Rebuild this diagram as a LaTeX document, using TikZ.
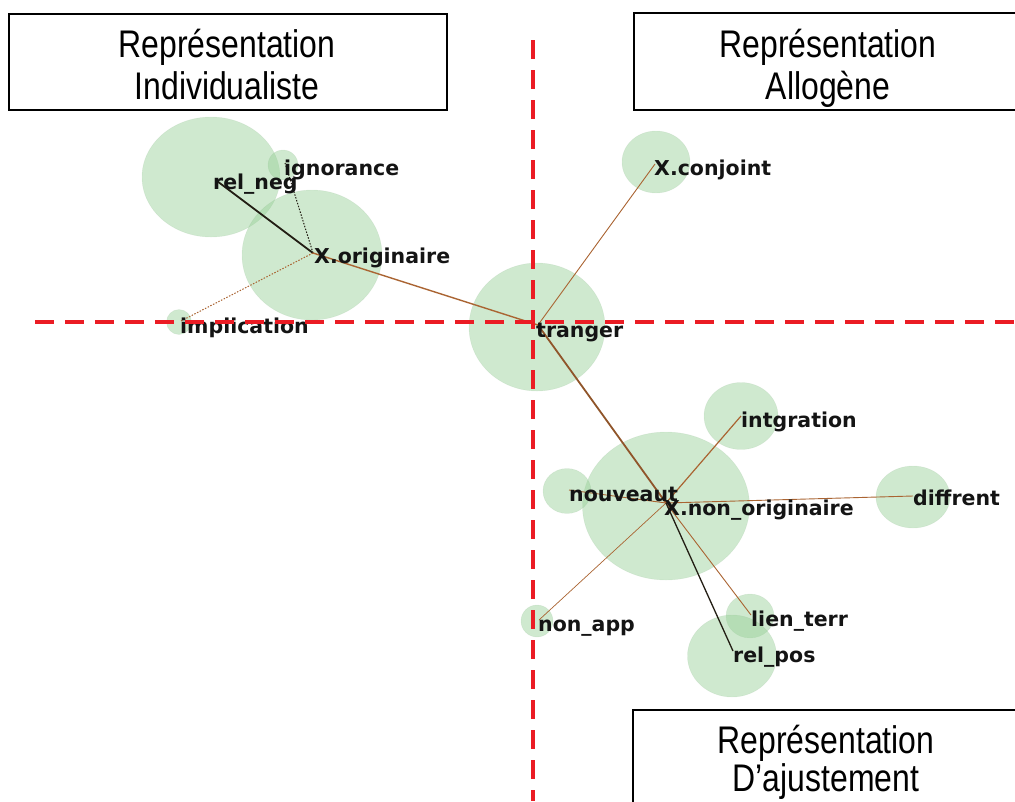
\documentclass[tikz,border=0pt]{standalone}
\usepackage{fontspec}
\newfontfamily\boxfont{Liberation Sans}[FakeStretch=0.83]
\newfontfamily\lblfont{DejaVu Sans}
\usetikzlibrary{shapes.geometric}
\definecolor{bubblegreen}{RGB}{150,208,150}
\definecolor{dashred}{RGB}{235,28,36}
\definecolor{edgebrown}{RGB}{170,100,50}
\definecolor{edgedark}{RGB}{35,30,20}
\tikzset{
  bubble/.style={ellipse, inner sep=0pt, fill=bubblegreen, fill opacity=0.45, draw=bubblegreen!80!black, draw opacity=0.15},
  lbl/.style={anchor=base west, inner sep=0pt, font=\lblfont\bfseries\fontsize{20.5}{21}\selectfont, text=black!92},
  edgeline/.style={draw=edgebrown, line width=0.9pt},
  edgethick/.style={draw=edgebrown!85!black, line width=1.8pt},
  edgeblack/.style={draw=edgedark, line width=1.8pt},
  edgedot/.style={draw=edgebrown, line width=1pt, dash pattern=on 1.5pt off 1.5pt},
  redline/.style={draw=dashred, line width=3.6pt, dash pattern=on 19pt off 11pt},
  qbox/.style={draw=black, line width=1.4pt, fill=white, inner sep=0pt},
  boxtext/.style={anchor=base, inner sep=0pt, font=\boxfont\fontsize{38.5}{38}\selectfont}
}
\begin{document}
\begin{tikzpicture}[x=1pt,y=-1pt]
\useasboundingbox (0,0) rectangle (1015,801);
\clip (0,0) rectangle (1015,801);
\fill[white] (0,0) rectangle (1015,801);

% bubbles
\node[bubble, minimum width=138, minimum height=120] (bRel) at (211,177) {};
\node[bubble, minimum width=30, minimum height=30] (bIgn) at (283,165) {};
\node[bubble, minimum width=140, minimum height=130] (bOrig) at (312,255) {};
\node[bubble, minimum width=25, minimum height=25] (bImp) at (179,322) {};
\node[bubble, minimum width=136, minimum height=128] (bTr) at (537,327) {};
\node[bubble, minimum width=68, minimum height=62] (bConj) at (656,162) {};
\node[bubble, minimum width=74, minimum height=67] (bInt) at (741,416) {};
\node[bubble, minimum width=167, minimum height=148] (bNon) at (666,506) {};
\node[bubble, minimum width=48, minimum height=45] (bNouv) at (567,491) {};
\node[bubble, minimum width=74, minimum height=62] (bDif) at (913,497) {};
\node[bubble, minimum width=32, minimum height=32] (bApp) at (537,621) {};
\node[bubble, minimum width=48, minimum height=44] (bLien) at (750,616) {};
\node[bubble, minimum width=89, minimum height=82] (bPos) at (732,656) {};

% term points
\coordinate (pRel) at (217,181);
\coordinate (pIgn) at (285,163);
\coordinate (pOrig) at (313,253);
\coordinate (pImp) at (181,321);
\coordinate (pTr) at (538,325);
\coordinate (pConj) at (655,164);
\coordinate (pInt) at (741,416);
\coordinate (pNouv) at (569,490);
\coordinate (pNon) at (666,503);
\coordinate (pDif) at (913,496);
\coordinate (pApp) at (539,620);
\coordinate (pLien) at (751,615);
\coordinate (pPos) at (733,651);

% connectors
\draw[edgeblack] (pOrig) -- (pRel);
\draw[edgedot, draw=edgedark] (pOrig) -- (pIgn);
\draw[edgedot] (pOrig) -- (pImp);
\draw[edgeline, line width=1.4pt] (pOrig) -- (pTr);
\draw[edgeline] (pTr) -- (pConj);
\draw[edgethick] (pTr) -- (pNon);
\draw[edgeline, line width=1.2pt] (pNon) -- (pInt);
\draw[edgeline] (pNon) -- (pNouv);
\draw[edgeline] (pNon) -- (pDif);
\draw[edgeline, line width=0.7pt] (pNon) -- (pApp);
\draw[edgeline] (pNon) -- (pLien);
\draw[edgeblack, line width=1.3pt] (pNon) -- (pPos);

% labels
\node[lbl] (lRel) at (213,189) {rel\_neg};
\node[lbl] (lIgn) at (284,175) {ignorance};
\node[lbl] (lOrig) at (314,263) {X.originaire};
\node[lbl] (lImp) at (180,333) {implication};
\node[lbl] (lTr) at (536,337) {tranger};
\node[lbl] (lConj) at (654,175) {X.conjoint};
\node[lbl] (lInt) at (741,427) {intgration};
\node[lbl] (lNouv) at (569,501) {nouveaut};
\node[lbl] (lNon) at (664,515) {X.non\_originaire};
\node[lbl] (lDif) at (913,505) {diffrent};
\node[lbl] (lApp) at (538,631) {non\_app};
\node[lbl] (lLien) at (751,626) {lien\_terr};
\node[lbl] (lPos) at (733,662) {rel\_pos};

% red dashed axes
\coordinate (vTop) at (533,40);
\coordinate (vBot) at (533,801);
\coordinate (hLeft) at (35,322);
\coordinate (hRight) at (1015,322);
\draw[redline] (vTop) -- (vBot);
\draw[redline] (hLeft) -- (hRight);

% boxes
\node[qbox, minimum width=438, minimum height=96] (box1) at (228,62) {};
\node[boxtext] (t1a) at (227,57) {Représentation};
\node[boxtext] (t1b) at (227,99) {Individualiste};

\node[qbox, minimum width=400, minimum height=97] (box2) at (834,61.5) {};
\node[boxtext] (t2a) at (828,57) {Représentation};
\node[boxtext] (t2b) at (828,99) {Allogène};

\node[qbox, minimum width=400, minimum height=110] (box3) at (833,765) {};
\node[boxtext] (t3a) at (826,753) {Représentation};
\node[boxtext] (t3b) at (826,791) {D’ajustement};
\end{tikzpicture}
\end{document}
